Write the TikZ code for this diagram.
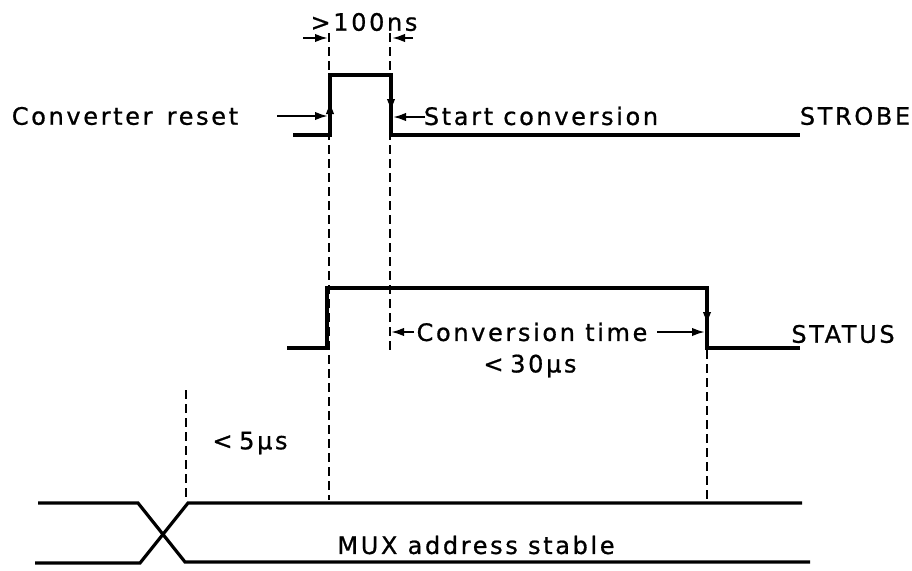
\documentclass[tikz,border=0pt]{standalone}
\usepackage{fontspec}
\setmainfont{DejaVu Sans}[LetterSpace=11,FakeBold=0.8]
\usetikzlibrary{arrows.meta}
\begin{document}
\begin{tikzpicture}[x=1pt,y=-1pt,
  sig/.style={line width=3.2pt, line join=miter},
  guide/.style={line width=2.8pt, dash pattern=on 9pt off 5pt},
  arr/.style={line width=2.2pt, -{Latex[length=13pt,width=8.5pt]}},
  lbl/.style={font=\fontsize{24}{28}\selectfont, inner sep=0pt}]
\fill[white] (0,0) rectangle (912,570);
\useasboundingbox (0,0) rectangle (912,570);

% texts
\node[lbl] (reset) at (125,116) {Converter\, reset};
\node[lbl] (start) at (541,116) {Start conversion};
\node[lbl] (strobe) at (855,116) {STROBE};
\node[lbl] (status) at (843,334) {STATUS};
\node[lbl] (ns) at (364,22) {>100ns};
\node[lbl] (conv) at (532,332) {Conversion time};
\node[lbl] (t30) at (530,366) {<\;30μs};
\node[lbl] (t5) at (250,443) {<\;5μs};
\node[lbl] (mux) at (476,545) {MUX address stable};

% STROBE waveform
\coordinate (s0) at (293,135);
\coordinate (s1) at (330,135);
\coordinate (s2) at (330,75);
\coordinate (s3) at (391,75);
\coordinate (s4) at (391,135);
\coordinate (s5) at (800,135);
\draw[sig] (s0) -- (s1) -- (s2) -- (s3) -- (s4) -- (s5);

% STATUS waveform
\coordinate (t0) at (287,348);
\coordinate (t1) at (327,348);
\coordinate (t2) at (327,288);
\coordinate (t3) at (707,288);
\coordinate (t4) at (707,348);
\coordinate (t5c) at (800,348);
\draw[sig] (t0) -- (t1) -- (t2) -- (t3) -- (t4) -- (t5c);

% MUX bus
\coordinate (m0) at (38,503);
\coordinate (m1) at (138,503);
\coordinate (m2) at (185,562);
\coordinate (m3) at (810,562);
\coordinate (n0) at (35,563);
\coordinate (n1) at (140,563);
\coordinate (n2) at (188,503);
\coordinate (n3) at (802,503);
\draw[sig] (m0) -- (m1) -- (m2) -- (m3);
\draw[sig] (n0) -- (n1) -- (n2) -- (n3);

% dashed guides
\coordinate (g1a) at (329,33);  \coordinate (g1b) at (329,500);
\coordinate (g2a) at (390,33);  \coordinate (g2b) at (390,352);
\coordinate (g3a) at (707,350); \coordinate (g3b) at (707,500);
\coordinate (g4a) at (186,390); \coordinate (g4b) at (186,500);
\draw[guide] (g1a) -- (g1b);
\draw[guide] (g2a) -- (g2b);
\draw[guide] (g3a) -- (g3b);
\draw[guide] (g4a) -- (g4b);

% edge arrows
\coordinate (e1a) at (330,126); \coordinate (e1b) at (330,101);
\coordinate (e2a) at (391,86);  \coordinate (e2b) at (391,112);
\coordinate (e3a) at (707,296); \coordinate (e3b) at (707,325);
\draw[arr] (e1a) -- (e1b);
\draw[arr] (e2a) -- (e2b);
\draw[arr] (e3a) -- (e3b);

% pointer arrows
\coordinate (r1) at (277,116); \coordinate (r2) at (328,116);
\coordinate (c1) at (425,117); \coordinate (c2) at (393,117);
\coordinate (p1) at (303,38);  \coordinate (p2) at (328,38);
\coordinate (q1) at (413,38);  \coordinate (q2) at (392,38);
\coordinate (v1) at (414,332); \coordinate (v2) at (391,332);
\coordinate (w1) at (657,332); \coordinate (w2) at (705,332);
\draw[arr] (r1) -- (r2);
\draw[arr] (c1) -- (c2);
\draw[arr] (p1) -- (p2);
\draw[arr] (q1) -- (q2);
\draw[arr] (v1) -- (v2);
\draw[arr] (w1) -- (w2);
\end{tikzpicture}
\end{document}
